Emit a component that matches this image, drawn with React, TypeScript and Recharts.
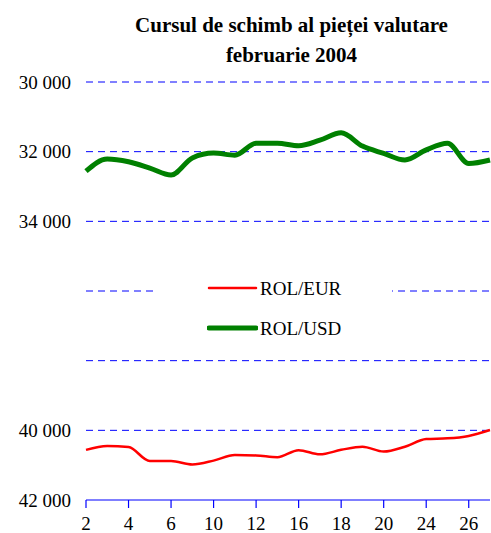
import { LineChart, Line, XAxis, YAxis, CartesianGrid, Legend } from 'recharts'

// trading days of February 2004
const days = ['2', '3', '4', '5', '6', '9', '10', '11', '12', '13', '16', '17', '18', '19', '20', '23', '24', '25', '26', '27']
const rolEur = [40560, 40450, 40480, 40880, 40880, 40980, 40870, 40710, 40720, 40770, 40570, 40690, 40560, 40470, 40610, 40470, 40250, 40230, 40160, 39990]
const rolUsd = [32560, 32210, 32290, 32470, 32670, 32180, 32040, 32100, 31760, 31760, 31830, 31670, 31460, 31840, 32050, 32240, 31950, 31760, 32340, 32240]
const yTicks = [30000, 32000, 34000, 36000, 38000, 40000, 42000]
const yTickLabels = ['30 000', '32 000', '34 000', '', '', '40 000', '42 000']

const data = days.map((d, i) => ({ day: d, eur: rolEur[i], usd: rolUsd[i] }))

const serif = '"Liberation Serif", serif'
const BLUE = '#0000ff'

function LegendBox() {
  const rows = [
    { label: 'ROL/EUR', color: '#ff0000', width: 2.5 },
    { label: 'ROL/USD', color: '#008000', width: 5 },
  ]
  return (
    <div style={{ background: '#fff', width: 237, height: 92, paddingTop: 6, paddingLeft: 52, boxSizing: 'border-box' }}>
      {rows.map(r => (
        <div key={r.label} style={{ display: 'flex', alignItems: 'center', height: 40 }}>
          <svg width={51} height={10} style={{ marginRight: 2 }}>
            <line x1={2} y1={5} x2={49} y2={5} stroke={r.color} strokeWidth={r.width} strokeLinecap="round" />
          </svg>
          <span style={{ fontFamily: serif, fontSize: 19, lineHeight: 1, color: '#000' }}>{r.label}</span>
        </div>
      ))}
    </div>
  )
}

export default function App() {
  return (
    <div style={{ position: 'absolute', left: 0, top: 0, width: 491, height: 533, background: '#fff' }}>
      <LineChart width={491} height={533} data={data} margin={{ top: 82, right: 1, bottom: 0, left: 0 }}>
        <CartesianGrid vertical={false} horizontalValues={yTicks.slice(0, -1)} stroke={BLUE} strokeDasharray="7 5" />
        <XAxis
          dataKey="day"
          interval={1}
          height={33}
          tickSize={8}
          tickMargin={9}
          axisLine={{ stroke: BLUE, strokeWidth: 1.2 }}
          tickLine={{ stroke: BLUE, strokeWidth: 1.2 }}
          tick={{ fontSize: 19, fill: '#000', fontFamily: serif }}
        />
        <YAxis
          reversed
          domain={[30000, 42000]}
          ticks={yTicks}
          width={86}
          axisLine={false}
          tickLine={false}
          tickSize={0}
          tickMargin={15}
          tickFormatter={(v: number) => yTickLabels[yTicks.indexOf(v)] ?? ''}
          tick={{ fontSize: 19, fill: '#000', fontFamily: serif }}
        />
        <Legend
          layout="vertical"
          align="center"
          verticalAlign="middle"
          wrapperStyle={{ left: 155, top: 262, width: 237, height: 92 }}
          content={() => <LegendBox />}
        />
        <Line type="monotone" dataKey="eur" name="ROL/EUR" stroke="#ff0000" strokeWidth={2.5} dot={false} isAnimationActive={false} />
        <Line type="monotone" dataKey="usd" name="ROL/USD" stroke="#008000" strokeWidth={5} dot={false} isAnimationActive={false} />
      </LineChart>
      <div
        style={{
          position: 'absolute',
          left: 91,
          top: 10,
          width: 401,
          textAlign: 'center',
          fontFamily: serif,
          fontWeight: 'bold',
          fontSize: 21,
          lineHeight: '30px',
          color: '#000',
          whiteSpace: 'nowrap',
        }}
      >
        <div>Cursul de schimb al pieței valutare</div>
        <div>februarie 2004</div>
      </div>
    </div>
  )
}
